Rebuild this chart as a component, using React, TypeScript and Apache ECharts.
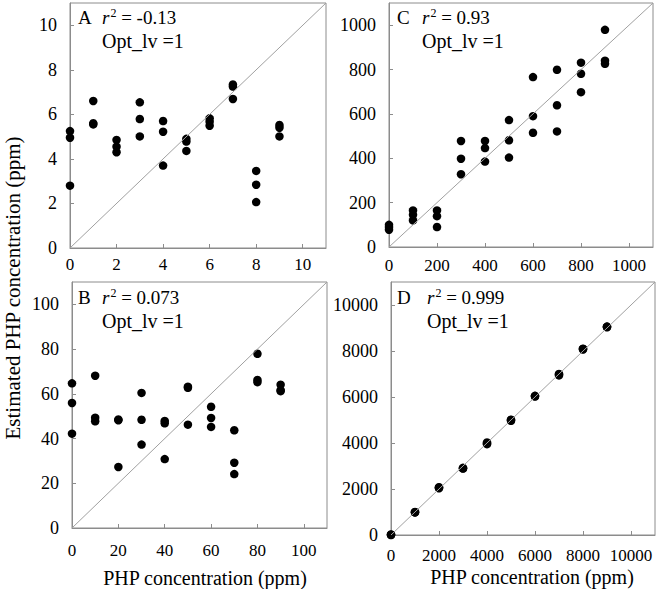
import React, { useEffect, useRef } from "react";
import * as echarts from "echarts";

// ---- data ----
const levelsA = [0, 1, 2, 3, 4, 5, 6, 7, 8, 9];
const estA = [
  [5.25, 4.95, 2.8], [6.6, 5.6, 5.55], [4.85, 4.55, 4.3], [6.54, 5.79, 5.01], [5.7, 5.22, 3.7],
  [4.9, 4.78, 4.36], [5.82, 5.67, 5.49], [7.34, 7.25, 6.69], [3.46, 2.84, 2.06], [5.52, 5.4, 5.01],
];
const levelsB = [0, 10, 20, 30, 40, 50, 60, 70, 80, 90];
const estB = [
  [64.7, 55.9, 42.2], [68.1, 49.3, 47.7], [48.5, 48.2, 27.3], [60.4, 48.4, 37.3], [47.9, 46.8, 30.8],
  [63.2, 62.7, 46.2], [54.2, 49.2, 45.2], [43.7, 29.2, 24.1], [77.9, 66.2, 65.2], [64.1, 61.2, 61.6],
];
const levelsC = [0, 100, 200, 300, 400, 500, 600, 700, 800, 900];
const estC = [
  [100, 90, 78], [165, 145, 120], [165, 139, 90], [478, 398, 328], [478, 446, 385],
  [572, 481, 403], [766, 590, 515], [799, 639, 521], [831, 781, 698], [979, 840, 826],
];
const levelsD = [0, 1000, 2000, 3000, 4000, 5000, 6000, 7000, 8000, 9000];
const estD = [
  [0, 10, 20], [981, 1000, 990], [2035, 2080, 2060], [2886, 2920, 2900], [3983, 3950, 4020],
  [4964, 5000, 5010], [6017, 6050, 6040], [6940, 6980, 7000], [8066, 8100, 8090], [9033, 9060, 9050],
];

const panelLetters = ["A", "B", "C", "D"];
const r2Labels = ["-0.13", "0.073", "0.93", "0.999"];
const optLabel = "Opt_lv =1";
const axisMax = [11, 110, 1100, 11000];
const axisInterval = [2, 20, 200, 2000];
const xAxisTitle = "PHP concentration (ppm)";
const yAxisTitle = "Estimated PHP concentration (ppm)";

const FONT = "'Liberation Serif'";
const GRAY = "#8c8c8c";

function toPoints(levels: number[], est: number[][]) {
  const pts: number[][] = [];
  levels.forEach((lv, i) => est[i].forEach((v) => pts.push([lv, v])));
  return pts;
}

export default function App() {
  const ref = useRef<HTMLDivElement>(null);
  useEffect(() => {
    if (!ref.current) return;
    const chart = echarts.init(ref.current, undefined, { renderer: "svg" });
    const grids = [
      { left: 70, top: 3, width: 256, height: 245 },   // A
      { left: 72, top: 282, width: 255, height: 246 }, // B
      { left: 389, top: 3, width: 264, height: 244 },  // C
      { left: 391, top: 282, width: 264, height: 253 },// D
    ];
    const allData = [toPoints(levelsA, estA), toPoints(levelsB, estB), toPoints(levelsC, estC), toPoints(levelsD, estD)];
    const xLabelMargin = [8, 14, 10, 12];
    const mkAxis = (i: number, isX: boolean) => ({
      type: "value",
      gridIndex: i,
      min: 0,
      max: axisMax[i],
      interval: axisInterval[i],
      splitLine: { show: false },
      axisLine: { show: true, lineStyle: { color: GRAY, width: 1 } },
      axisTick: { show: true, inside: true, length: 4, lineStyle: { color: GRAY } },
      axisLabel: {
        show: true,
        showMaxLabel: false,
        color: "#000",
        fontFamily: FONT,
        fontSize: isX ? 17 : 18,
        margin: isX ? xLabelMargin[i] : 13,
        formatter: (v: number) => String(v),
      },
    });
    const series: any[] = [];
    for (let i = 0; i < 4; i++) {
      series.push({
        type: "line",
        xAxisIndex: i,
        yAxisIndex: i,
        data: [[0, 0], [axisMax[i], axisMax[i]]],
        symbol: "none",
        lineStyle: { color: "#a0a0a0", width: 1 },
        silent: true,
      });
      series.push({
        type: "scatter",
        xAxisIndex: i,
        yAxisIndex: i,
        data: allData[i],
        symbol: "circle",
        symbolSize: 8.5,
        itemStyle: { color: "#000", opacity: 1 },
      });
    }
    const annPos = [
      { lx: 78, rx: 102, y: 19, oy: 42 },
      { lx: 78, rx: 102, y: 299, oy: 322 },
      { lx: 397, rx: 422, y: 19, oy: 42 },
      { lx: 397, rx: 427, y: 299, oy: 322 },
    ];
    const graphics: any[] = [];
    annPos.forEach((p, i) => {
      graphics.push({
        type: "text", left: p.lx, top: p.y - 11,
        style: { text: panelLetters[i], font: `19px ${FONT}`, fill: "#000" },
      });
      graphics.push({
        type: "text", left: p.rx, top: p.y - 12,
        style: {
          text: `{i|r}{s|2}{n| = ${r2Labels[i]}}`,
          fill: "#000",
          rich: {
            i: { fontFamily: FONT, fontSize: 19, fontStyle: "italic", fill: "#000", lineHeight: 22 },
            s: { fontFamily: FONT, fontSize: 12, fill: "#000", padding: [0, 0, 8, 1], lineHeight: 22 },
            n: { fontFamily: FONT, fontSize: 19, fill: "#000", lineHeight: 22 },
          },
        },
      });
      graphics.push({
        type: "text", left: p.rx, top: p.oy - 11,
        style: { text: optLabel, font: `20px ${FONT}`, fill: "#000" },
      });
    });
    graphics.push({
      type: "text", x: 13, y: 288, rotation: Math.PI / 2,
      style: { text: yAxisTitle, font: `21px ${FONT}`, fill: "#000", align: "center", verticalAlign: "middle" },
    });
    graphics.push({
      type: "text", x: 205, y: 578,
      style: { text: xAxisTitle, font: `20px ${FONT}`, fill: "#000", align: "center", verticalAlign: "middle" },
    });
    graphics.push({
      type: "text", x: 532, y: 577,
      style: { text: xAxisTitle, font: `20px ${FONT}`, fill: "#000", align: "center", verticalAlign: "middle" },
    });

    chart.setOption({
      animation: false,
      backgroundColor: "#fff",
      grid: grids.map((g) => ({ ...g, show: true, borderColor: GRAY, borderWidth: 1, backgroundColor: "transparent", containLabel: false })),
      xAxis: [0, 1, 2, 3].map((i) => mkAxis(i, true)),
      yAxis: [0, 1, 2, 3].map((i) => mkAxis(i, false)),
      series,
      graphic: graphics,
    });
    return () => chart.dispose();
  }, []);
  return <div ref={ref} style={{ position: "fixed", left: 0, top: 0, width: 656, height: 589 }} />;
}
